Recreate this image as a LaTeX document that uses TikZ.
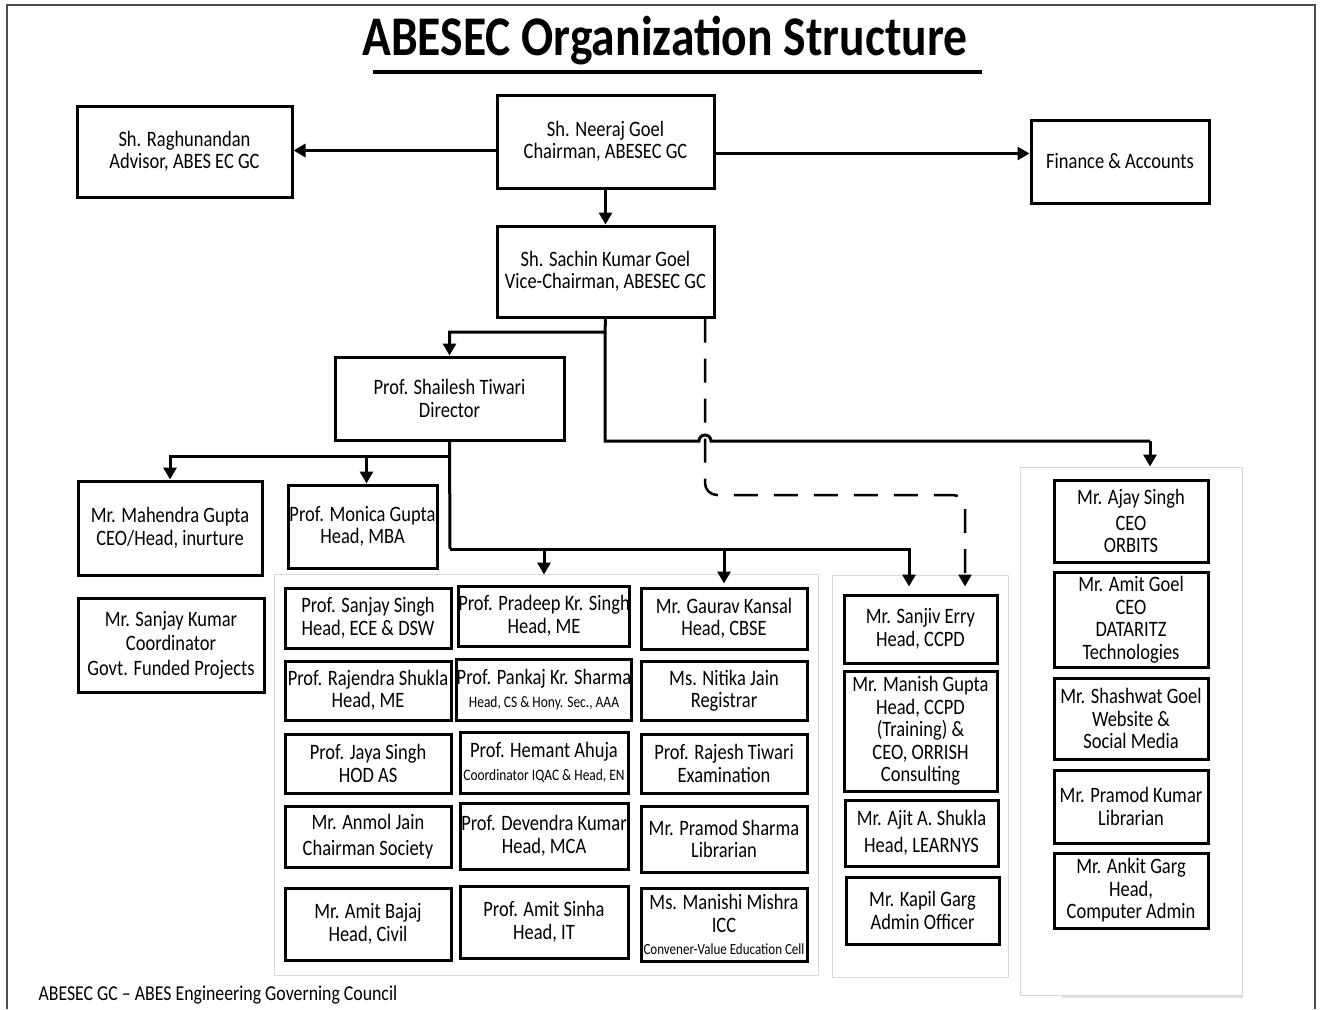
\documentclass[tikz,border=0pt]{standalone}
\usepackage{fontspec}
\setmainfont{Carlito}[FakeStretch=0.84]
\newfontfamily\titlefont{Carlito}[FakeStretch=0.85]
\usetikzlibrary{arrows.meta}
\newcommand\bx[6]{\node[box, minimum width={(#4-#2)*1pt}, minimum height={(#5-#3)*1pt}] (#1) at ({(#2+#4)/2},{(#3+#5)/2}) {#6};}
\newcommand\gp[5]{\node[grp, minimum width={(#4-#2)*1pt}, minimum height={(#5-#3)*1pt}] (#1) at ({(#2+#4)/2},{(#3+#5)/2}) {};}
\newcommand\sm{\fontsize{16}{18}\selectfont}
\newcommand\xs{\fontsize{15.5}{17}\selectfont}
\begin{document}
\begin{tikzpicture}[x=1pt,y=-1pt,
  box/.style={draw, line width=3pt, align=center, inner sep=0pt, fill=white, font=\fontsize{22}{22.5}\selectfont},
  grp/.style={draw=black!15, line width=1pt, inner sep=0pt},
  conn/.style={line width=3pt},
  arr/.style={conn, -{Triangle[width=13pt,length=12pt]}},
  dash line/.style={line width=2.5pt, dash pattern=on 24pt off 16pt, rounded corners=12pt, -{Triangle[width=13pt,length=12pt]}},
]
\useasboundingbox (0,0) rectangle (1321,1009);
% outer frame
\draw[black!70, line width=1.5pt] (7,1009) -- (7,5) -- (1315,5) -- (1315,1009);
% title
\node[font=\titlefont\bfseries\fontsize{56}{60}\selectfont] (title) at (665,41) {ABESEC Organization Structure};
\draw[line width=3.5pt] (373,72) -- (982,72);
% groups
\draw[black!12, line width=2pt] (1062,997) -- (1243,997);
\gp{gmid}{274}{574}{818}{975}
\gp{grmid}{832}{575}{1008}{977}
\gp{gright}{1020}{467}{1242}{995}
% top boxes
\bx{ragh}{77}{106}{292}{197}{Sh. Raghunandan\\Advisor, ABES EC GC}
\bx{neeraj}{497}{95}{714}{188}{Sh. Neeraj Goel\\Chairman, ABESEC GC}
\bx{finance}{1031}{120}{1209}{203}{Finance \& Accounts}
\bx{sachin}{497}{226}{714}{317}{Sh. Sachin Kumar Goel\\Vice-Chairman, ABESEC GC}
\bx{director}{335}{357}{564}{440}{Prof. Shailesh Tiwari\\Director}
\bx{mahendra}{78}{481}{262}{575}{Mr. Mahendra Gupta\\CEO/Head, inurture}
\bx{monica}{288}{485}{437}{568}{Prof. Monica Gupta\\Head, MBA}
\bx{sanjayk}{78}{598}{264}{692}{Mr. Sanjay Kumar\\[2pt]Coordinator\\[2pt]Govt. Funded Projects}
% grid
\bx{sanjays}{285}{588}{451}{648}{Prof. Sanjay Singh\\Head, ECE \& DSW}
\bx{pradeep}{460}{586}{628}{646}{Prof. Pradeep Kr. Singh\\Head, ME}
\bx{gaurav}{641}{588}{807}{649}{Mr. Gaurav Kansal\\Head, CBSE}
\bx{rajendra}{285}{661}{451}{720}{Prof. Rajendra Shukla\\Head, ME}
\bx{pankaj}{460}{659}{628}{720}{Prof. Pankaj Kr. Sharma\\{\sm Head, CS \& Hony. Sec., AAA}}
\bx{nitika}{641}{661}{807}{720}{Ms. Nitika Jain\\Registrar}
\bx{jaya}{285}{734}{451}{793}{Prof. Jaya Singh\\HOD AS}
\bx{hemant}{460}{732}{628}{793}{Prof. Hemant Ahuja\\{\sm Coordinator IQAC \& Head, EN}}
\bx{rajesh}{641}{734}{807}{793}{Prof. Rajesh Tiwari\\Examination}
\bx{anmol}{285}{806}{451}{867}{Mr. Anmol Jain\\[3pt]Chairman Society}
\bx{devendra}{460}{803}{628}{869}{Prof. Devendra Kumar\\Head, MCA}
\bx{pramods}{641}{806}{807}{872}{Mr. Pramod Sharma\\Librarian}
\bx{bajaj}{285}{888}{451}{960}{Mr. Amit Bajaj\\Head, Civil}
\bx{sinha}{460}{886}{628}{958}{Prof. Amit Sinha\\Head, IT}
\bx{manishi}{641}{888}{807}{961}{Ms. Manishi Mishra\\ICC\\{\xs Convener-Value Education Cell}}
% right-middle column
\bx{sanjiv}{844}{595}{997}{663}{Mr. Sanjiv Erry\\Head, CCPD}
\bx{manish}{844}{671}{997}{791}{Mr. Manish Gupta\\Head, CCPD\\(Training) \&\\CEO, ORRISH\\Consulting}
\bx{ajit}{845}{800}{998}{866}{Mr. Ajit A. Shukla\\[4pt]Head, LEARNYS}
\bx{kapil}{846}{877}{999}{944}{Mr. Kapil Garg\\Admin Officer}
% right column
\bx{ajay}{1054}{480}{1208}{562}{Mr. Ajay Singh\\[3pt]CEO\\ORBITS}
\bx{amitg}{1054}{572}{1208}{667}{Mr. Amit Goel\\CEO\\DATARITZ\\Technologies}
\bx{shashwat}{1054}{678}{1208}{759}{Mr. Shashwat Goel\\Website \&\\Social Media}
\bx{pramodk}{1054}{770}{1208}{843}{Mr. Pramod Kumar\\Librarian}
\bx{ankit}{1054}{853}{1208}{928}{Mr. Ankit Garg\\Head,\\Computer Admin}
% footer
\node[anchor=west, font=\fontsize{21.2}{22}\selectfont] (footer) at (35,995) {ABESEC GC -- ABES Engineering Governing Council};
% connectors
\draw[arr] ([yshift=-9pt]neeraj.west) -- ([yshift=-9pt]neeraj.west -| ragh.east);
\draw[arr] ([yshift=-12pt]neeraj.east) -- ([yshift=-12pt]neeraj.east -| finance.west);
\draw[arr] (neeraj.south) -- (sachin.north);
\coordinate (j1) at (605,332);
\coordinate (j2) at (605,441);
\coordinate (xr) at (1150,0);
\coordinate (xd) at (705,0);
\coordinate (xs) at (909,0);
\coordinate (xt) at (965,0);
\draw[arr] (sachin.south) -- (j1) -| (director.north);
\draw[conn] (j1) -- (j2) -- (699,441) arc[start angle=180, end angle=360, radius=6] -- (xr |- j2);
\draw[arr] (xr |- j2) -- (xr |- gright.north);
% dashed
\path (sanjiv.north -| xt) ++(0,-7) coordinate (tdash);
\path (sanjiv.north -| xs) ++(0,-7) coordinate (tsol);
\coordinate (dd) at (705,495);
\draw[dash line] (sachin.south -| xd) -- (dd) -- (dd -| xt) -- (tdash);
% director branches
\coordinate (d1) at (450,456);
\coordinate (d2) at (450,549);
\draw[conn] (director.south) -- (d2);
\draw[arr] (d1) -| (mahendra.north);
\draw[arr] (d1) -| ([xshift=4pt]monica.north);
\draw[arr] (d2) -| (tsol);
\draw[arr] (d2 -| pradeep.north) -- ([yshift=10pt]pradeep.north);
\draw[arr] (d2 -| gaurav.north) -- ([yshift=3pt]gaurav.north);
\end{tikzpicture}
\end{document}
